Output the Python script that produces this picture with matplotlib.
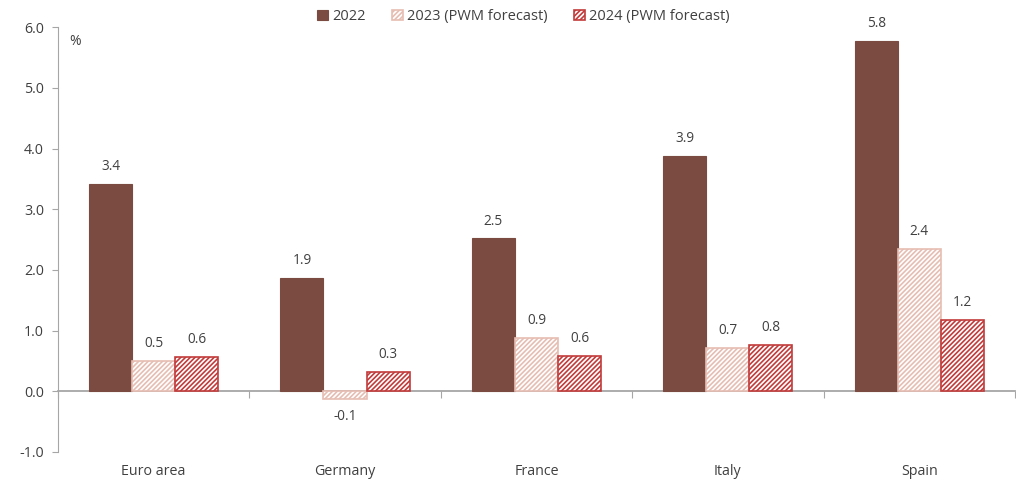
import matplotlib
matplotlib.use("Agg")
import matplotlib.pyplot as plt
import matplotlib.transforms as mtrans
import numpy as np

categories = ["Euro area", "Germany", "France", "Italy", "Spain"]
series_names = ["2022", "2023 (PWM forecast)", "2024 (PWM forecast)"]
v2022 = [3.42, 1.87, 2.52, 3.88, 5.77]
v2023 = [0.50, -0.13, 0.88, 0.72, 2.35]
v2024 = [0.57, 0.32, 0.58, 0.76, 1.18]
labels2022 = ["3.4", "1.9", "2.5", "3.9", "5.8"]
labels2023 = ["0.5", "-0.1", "0.9", "0.7", "2.4"]
labels2024 = ["0.6", "0.3", "0.6", "0.8", "1.2"]
yticks = [-1.0, 0.0, 1.0, 2.0, 3.0, 4.0, 5.0, 6.0]

plt.rcParams['font.family'] = ['Open Sans', 'DejaVu Sans']
plt.rcParams['hatch.linewidth'] = 1.2
txt = "#404040"
grey = "#A6A6A6"
c2022 = "#7B4A40"
c2023 = "#E6BDB2"
c2024 = "#C23B3B"

fig = plt.figure(figsize=(10.16, 4.86), dpi=100)
ax = fig.add_axes([0.057, 0.070, 0.942, 0.874])

x = np.arange(len(categories))
w = 0.225
ax.bar(x - w, v2022, w, color=c2022, edgecolor=c2022, linewidth=0.8, label=series_names[0], zorder=3)
ax.bar(x, v2023, w, color="white", edgecolor=c2023, hatch="///////", linewidth=1.2, label=series_names[1], zorder=3)
ax.bar(x + w, v2024, w, color="white", edgecolor=c2024, hatch="///////", linewidth=1.2, label=series_names[2], zorder=3)

for vals, labs, off in [(v2022, labels2022, -w), (v2023, labels2023, 0), (v2024, labels2024, w)]:
    for xi, v, l in zip(x, vals, labs):
        if v >= 0:
            ax.annotate(l, (xi + off, v), xytext=(0, 7), textcoords="offset points",
                        ha="center", va="bottom", fontsize=9.8, color=txt)
        else:
            ax.annotate(l, (xi + off, v), xytext=(0, -7), textcoords="offset points",
                        ha="center", va="top", fontsize=9.8, color=txt)

ax.set_xlim(-0.5, len(categories) - 0.5)
ax.set_ylim(-1.0, 6.0)
ax.set_yticks(yticks)
ax.set_yticklabels([f"{t:.1f}" for t in yticks], fontsize=10.3, color=txt)
ax.tick_params(axis="y", direction="out", length=4, color=grey, pad=6)

ax.spines["top"].set_visible(False)
ax.spines["right"].set_visible(False)
ax.spines["left"].set_color(grey)
ax.spines["bottom"].set_position(("data", 0))
ax.spines["bottom"].set_color(grey)
ax.spines["bottom"].set_linewidth(1.3)
ax.set_xticks(np.arange(len(categories) + 1) - 0.5)
ax.set_xticklabels([])
ax.tick_params(axis="x", direction="out", length=5, color=grey)

trans = mtrans.blended_transform_factory(ax.transData, ax.transAxes)
for xi, c in zip(x, categories):
    ax.text(xi, -0.047, c, transform=trans, ha="center", va="center", fontsize=10.3, color=txt)

ax.text(0.012, 0.985, "%", transform=ax.transAxes, ha="left", va="top", fontsize=10, color=txt)

leg = fig.legend(loc="upper center", bbox_to_anchor=(0.515, 1.008), ncol=3, frameon=False,
                 fontsize=10.5, handlelength=0.75, handleheight=0.75, handletextpad=0.3,
                 columnspacing=1.8)
for t in leg.get_texts():
    t.set_color(txt)

fig.savefig("out.png", dpi=100)
